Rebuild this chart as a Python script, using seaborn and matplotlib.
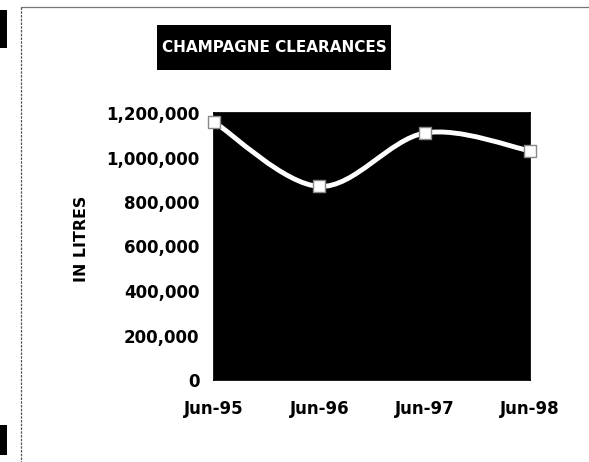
import matplotlib
matplotlib.use("Agg")
import matplotlib.pyplot as plt
from matplotlib.path import Path
from matplotlib.patches import PathPatch, Rectangle
from matplotlib.ticker import FuncFormatter
import seaborn as sns
import pandas as pd
import numpy as np

categories = ["Jun-95", "Jun-96", "Jun-97", "Jun-98"]
values = [1160000, 870000, 1110000, 1030000]
yticks = [0, 200000, 400000, 600000, 800000, 1000000, 1200000]

sns.set_theme(style="white")
plt.rcParams['font.family'] = ['DejaVu Sans']

W, H = 589, 462
fig = plt.figure(figsize=(W / 100, H / 100), dpi=100)
fig.patch.set_facecolor("white")

def fx(px):
    return px / W

def fy(py):
    return 1 - py / H

ax = fig.add_axes([fx(214), fy(380), fx(530) - fx(214), fy(113) - fy(380)])
ax.set_facecolor("black")

df = pd.DataFrame({"x": np.arange(len(categories)), "v": values})

# smooth curve (Catmull-Rom converted to cubic Bezier) through the data
xs = df["x"].to_numpy(dtype=float)
ys = df["v"].to_numpy(dtype=float)
verts = [(xs[0], ys[0])]
codes = [Path.MOVETO]
n = len(xs)
for i in range(n - 1):
    p0 = (xs[max(i - 1, 0)], ys[max(i - 1, 0)])
    p1 = (xs[i], ys[i])
    p2 = (xs[i + 1], ys[i + 1])
    p3 = (xs[min(i + 2, n - 1)], ys[min(i + 2, n - 1)])
    c1 = (p1[0] + (p2[0] - p0[0]) / 6, p1[1] + (p2[1] - p0[1]) / 6)
    c2 = (p2[0] - (p3[0] - p1[0]) / 6, p2[1] - (p3[1] - p1[1]) / 6)
    verts += [c1, c2, p2]
    codes += [Path.CURVE4] * 3
ax.add_patch(PathPatch(Path(verts, codes), facecolor="none", edgecolor="white",
                       lw=3.5, zorder=3))

sns.scatterplot(data=df, x="x", y="v", ax=ax, marker="s", s=70,
                color="white", edgecolor="#888888", linewidth=1.0, zorder=4,
                clip_on=False, legend=False)

ax.set_xlim(0, 3)
ax.set_ylim(0, 1200000)
ax.set_xticks(range(len(categories)))
ax.set_xticklabels(categories)
ax.set_yticks(yticks)
ax.yaxis.set_major_formatter(FuncFormatter(lambda v, p: f"{int(v):,}"))
ax.tick_params(axis="both", which="major", direction="out", length=3.6, width=1,
               color="black", labelsize=12, labelcolor="black")
ax.tick_params(axis="y", pad=7)
ax.tick_params(axis="x", pad=11)
for lbl in ax.get_xticklabels() + ax.get_yticklabels():
    lbl.set_fontweight("bold")
for s in ax.spines.values():
    s.set_visible(True)
    s.set_color("black")
ax.set_xlabel("")
ax.set_ylabel("")

fig.text(fx(81), fy(239), "IN LITRES", rotation=90, ha="center", va="center",
         fontsize=11.3, fontweight="bold", color="black")

# title box
fig.patches.append(Rectangle((fx(157), fy(70)), fx(391) - fx(157), fy(25) - fy(70),
                             transform=fig.transFigure, facecolor="black",
                             edgecolor="none", zorder=1))
fig.text(fx(274), fy(47.5), "CHAMPAGNE CLEARANCES", ha="center", va="center",
         fontsize=11, color="white", fontweight="bold", zorder=2)

# outer frame
fig.add_artist(plt.Line2D([fx(21), fx(589)], [fy(7), fy(7)], transform=fig.transFigure,
                          color="#777777", lw=0.9))
fig.add_artist(plt.Line2D([fx(21), fx(21)], [fy(7), fy(462)], transform=fig.transFigure,
                          color="#555555", lw=0.9, linestyle=(0, (2, 1))))

# scan edge marks
fig.patches.append(Rectangle((0, fy(48)), fx(7), fy(10) - fy(48),
                             transform=fig.transFigure, facecolor="black", edgecolor="none"))
fig.patches.append(Rectangle((0, fy(455)), fx(7), fy(425) - fy(455),
                             transform=fig.transFigure, facecolor="black", edgecolor="none"))

fig.savefig("out.png", dpi=100)
